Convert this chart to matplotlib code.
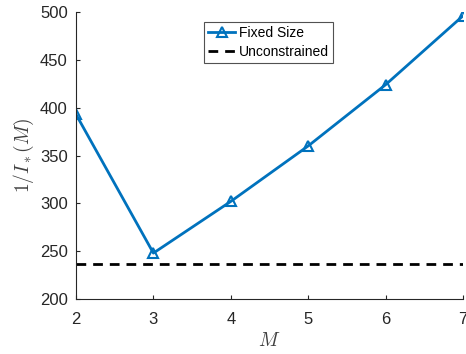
import matplotlib
matplotlib.use("Agg")
import matplotlib.pyplot as plt

M = [2, 3, 4, 5, 6, 7]
fixed_size = [393, 248, 302, 360, 424, 496]
unconstrained = 237

xticks = [2, 3, 4, 5, 6, 7]
yticks = [200, 250, 300, 350, 400, 450, 500]

plt.rcParams['mathtext.fontset'] = 'cm'
fig = plt.figure(figsize=(4.66, 3.54), dpi=100)
ax = fig.add_axes([76/466, 1-299/354, (463-76)/466, (299-12)/354])

blue = '#0072BD'
ax.plot(M, fixed_size, '-^', color=blue, lw=2, ms=6.5, mfc='none', mew=1.5, label='Fixed Size')
ax.axhline(unconstrained, color='black', ls=(0, (3.5, 2.5)), lw=2, label='Unconstrained')

ax.set_xlim(2, 7)
ax.set_ylim(200, 500)
ax.set_xticks(xticks)
ax.set_yticks(yticks)
for s in ['top', 'right']:
    ax.spines[s].set_visible(False)
for s in ['left', 'bottom']:
    ax.spines[s].set_color('#262626')
    ax.spines[s].set_linewidth(0.8)
ax.tick_params(direction='in', length=3, colors='#262626', labelsize=12, width=0.8)
ax.tick_params(axis='x', pad=9)
ax.tick_params(axis='y', pad=6)
for lab in ax.get_xticklabels() + ax.get_yticklabels():
    lab.set_family('Liberation Sans')

ax.set_xlabel('$M$', fontsize=14, color='#404040', labelpad=3)
ax.set_ylabel('$1/I_*(M)$', fontsize=14, color='#404040', labelpad=3)

leg = ax.legend(loc='upper left', bbox_to_anchor=((204-76)/387, (299-22)/287), frameon=True, fancybox=False,
                edgecolor='#262626', prop={'family': 'Liberation Sans', 'size': 10},
                handlelength=1.95, borderpad=0.3, labelspacing=0.35, handletextpad=0.25,
                borderaxespad=0)
leg.get_frame().set_linewidth(0.8)

fig.savefig('out.png', dpi=100)
